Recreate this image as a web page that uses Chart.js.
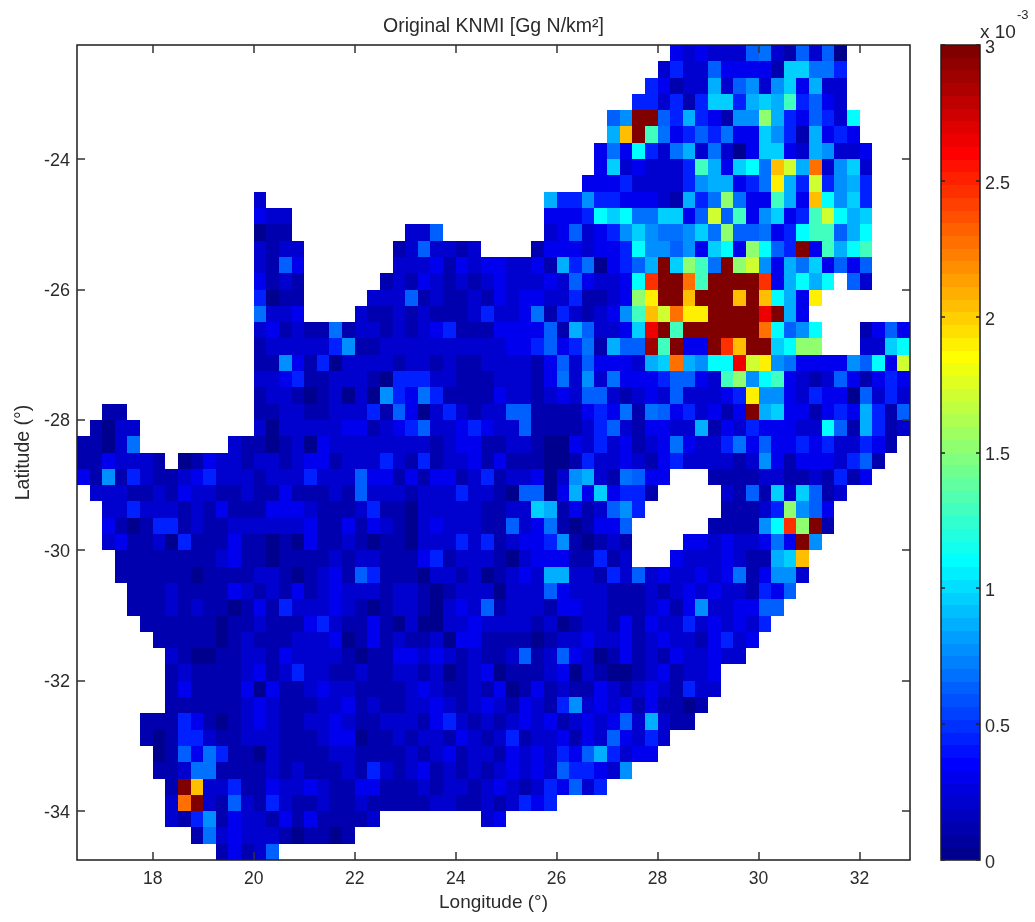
<!DOCTYPE html>
<html><head><meta charset="utf-8">
<style>html,body{margin:0;padding:0;background:#fff}canvas{position:absolute;top:0;display:block}</style>
<script src="https://cdn.jsdelivr.net/npm/chart.js@4"></script>
</head><body>
<canvas id="map" width="1035" height="922" style="left:0"></canvas>
<canvas id="bar" width="105" height="922" style="left:930px"></canvas>
<script>
// Axis ticks
const xTicks=[18,20,22,24,26,28,30,32];
const yTicks=[-34,-32,-30,-28,-26,-24];
const barTicks=[0,0.5,1,1.5,2,2.5,3];
const cellLon=0.25, cellLat=0.25, lonMin=16.5, lonMax=33, latMin=-34.75, latMax=-22.25;
// Legend key for the cell strings: each character is a value in units of 1e-3 Gg N/km2
const levelKeys="0123456789abcdefghijk";
const levelValues=[.04,.13,.21,.31,.43,.61,.70,.77,.87,.96,1.10,1.27,1.5,1.69,1.875,2.06,2.25,2.44,2.63,2.86,3];
// Rows from north to south; every row is a list of [first column, cell characters]
const gridRows=[
[[47,"32322256215250"]],
[[46,"242253333199664"]],
[[45,"4312282572793822"]],
[[44,"442414994898b4532"]],
[[42,"57kk54843177c843542a"]],
[[42,"8fkb6345463397418343"]],
[[41,"363a426826203993287223"]],
[[41,"39232224b839a6fd8g2792"]],
[[40,"333422224788346e84d4784"]],
[[14,"2"],[37,"84474433321846c633b83fa794"]],
[[14,"322"],[37,"3334a9a669935d5b37934bda89"]],
[[14,"011"],[26,"225"],[37,"23523479766796c55634abb58a"]],
[[14,"2122"],[25,"1252212"],[36,"13332334a775739a3ca54k3b8ab"]],
[[14,"2153"],[25,"222313233223184603458k9cb6kcd738693535"]],
[[14,"3121"],[24,"12132121232223253223ahkkgbkkkkh38a8a"],[61,"52"]],
[[14,"4011"],[23,"222512112132332241123cekkfkkkfkfa83e"]],
[[14,"6223"],[22,"2112121112422361421237bfdgeekkkkik83"]],
[[14,"2312116122121234111333351852239ikbkkkkkkga57a"],[62,"1353"]],
[[14,"1222224711222222222233453461855jbk33khfkk9acc"],[62,"229a"]],
[[14,"117314022221221211222213525333289g87aaide76333375a3d"]],
[[14,"2234112221044422111222136272633345532bc7ab3212531343"]],
[[14,"122101202074364111132212325521232522234e773243305242"]],
[[2,"11"],[14,"112211222415302421225511113436165342313k893313438415"]],
[[1,"1022"],[14,"202222233123452234322511112452133228132433322a518412"]],
[[0,"11026"],[12,"21101203222222221233112210032423123632246353343422431"]],
[[0,"1132221"],[8,"01322122123312224214122313111001422321342222127313332451"]],
[[0,"31714211234222122242225331313312412230278216533"],[50,"1111221121413"]],
[[1,"222112132211211311121522212224221055038393441"],[51,"2151929512"]],
[[2,"2242221213111333211124110222221122981312574"],[51,"11124c753"]],
[[2,"310144121122222231131321023222115236101335"],[50,"11117ahck1"]],
[[2,"231120411131101031121011022242412334710121"],[48,"332322363k7"]],
[[3,"11111111231101111212211134122210233311412"],[47,"3222321189f"]],
[[3,"1111110111122101231541110221201232882214252322323613772"]],
[[4,"11121111321213123222122101222022253222111212323221435"]],
[[4,"1112121101314222321012210232512221332211123137223355"]],
[[5,"11111101121113421131020022322221201221313224232324"]],
[[6,"111110121112223013121120331111012232231232213423"]],
[[7,"2100112213222210113323212112512532013121322322"]],
[[7,"12111123124221121122120123011123021001231223"]],
[[7,"13111130311232211112321121301312113212321422"]],
[[7,"1111112321112231211223212321321472323131101"]],
[[5,"11143101232112232112221342121232312323528211"]],
[[5,"101442112221112330112122132124122313253242"]],
[[6,"0153641102111122111121231221323243584233"]],
[[6,"11266111121211121421231212123232544327"]],
[[7,"1kf22411322321133111212212321243524"]],
[[7,"2gk2152142112112111112211212434"]],
[[7,"21471322131311112"],[32,"23"]],
[[9,"1623222101101"]],
[[11,"13125"]]
];

function jet(v){
  const idx=Math.min(63,Math.floor(v/3*64));
  const t=(idx+1)/64;
  const ch=d=>Math.max(0,Math.min(1,1.5-Math.abs(4*t-d)));
  return `rgb(${Math.round(ch(3)*255)},${Math.round(ch(2)*255)},${Math.round(ch(1)*255)})`;
}
const textColor='#2b2b2b';
const fontFamily='"Liberation Sans",Arial,sans-serif';

const snapBars={id:'snapBars',afterDatasetsUpdate(chart){
  chart.getSortedVisibleDatasetMetas().forEach(meta=>meta.data.forEach((el,i)=>{
    let l,r;
    if(meta.iScale.type==='linear'){
      const lon=meta._parsed[i].x;
      l=Math.round(meta.iScale.getPixelForValue(lon-cellLon/2));
      r=Math.round(meta.iScale.getPixelForValue(lon+cellLon/2));
    }else{
      l=Math.round(el.x-el.width/2);r=Math.round(el.x+el.width/2);
    }
    const t=Math.round(Math.min(el.y,el.base)),b=Math.round(Math.max(el.y,el.base));
    el.x=(l+r)/2;el.width=r-l;el.y=t;el.base=b;el.height=b-t;
  }));
}};
function frame(ctx,a){
  ctx.save();ctx.strokeStyle='#1c1c1c';ctx.lineWidth=1.5;
  ctx.strokeRect(a.left,a.top,a.right-a.left,a.bottom-a.top);ctx.restore();
}
const boxTicks={id:'boxTicks',afterDatasetsDraw(chart){
  const ctx=chart.ctx,a=chart.chartArea,L=8;
  frame(ctx,a);
  ctx.save();ctx.strokeStyle='#333';ctx.lineWidth=1.5;ctx.beginPath();
  xTicks.forEach(v=>{const p=Math.round(chart.scales.x.getPixelForValue(v));
    ctx.moveTo(p,a.bottom);ctx.lineTo(p,a.bottom-L);ctx.moveTo(p,a.top);ctx.lineTo(p,a.top+L);});
  yTicks.forEach(v=>{const p=Math.round(chart.scales.y.getPixelForValue(v));
    ctx.moveTo(a.left,p);ctx.lineTo(a.left+L,p);ctx.moveTo(a.right,p);ctx.lineTo(a.right-L,p);});
  ctx.stroke();ctx.restore();
}};

const mapDatasets=gridRows.map((segments,r)=>{
  const latTop=latMax-r*cellLat, data=[], colors=[];
  segments.forEach(([start,cells])=>{
    [...cells].forEach((ch,i)=>{
      const v=levelValues[levelKeys.indexOf(ch)];
      data.push({x:lonMin+(start+i+0.5)*cellLon,y:[latTop-cellLat,latTop],v});
      colors.push(jet(v));
    });
  });
  return {label:'row '+r,data,backgroundColor:colors,borderWidth:0,borderSkipped:false,inflateAmount:0,
    grouped:false,barPercentage:1,categoryPercentage:1};
});

new Chart(document.getElementById('map'),{
  type:'bar',
  data:{datasets:mapDatasets},
  plugins:[snapBars,boxTicks],
  options:{
    responsive:false,animation:false,events:[],
    layout:{padding:{left:0,right:125,top:0,bottom:0},autoPadding:false},
    plugins:{
      legend:{display:false},tooltip:{enabled:false},
      title:{display:true,fullSize:false,text:'Original KNMI [Gg N/km²]',color:textColor,
        font:{family:fontFamily,size:19.5,weight:'normal',lineHeight:1.2},padding:{top:15,bottom:6.6}}
    },
    scales:{
      x:{type:'linear',offset:false,min:lonMin,max:lonMax,stacked:false,
        grid:{display:false,drawTicks:false},border:{display:false},
        afterBuildTicks:s=>{s.ticks=xTicks.map(value=>({value}));},
        afterFit:s=>{s.height=62;},
        ticks:{color:textColor,padding:9,maxRotation:0,autoSkip:false,font:{family:fontFamily,size:17.5},callback:v=>String(v)},
        title:{display:true,text:'Longitude (°)',color:textColor,font:{family:fontFamily,size:19},padding:{top:0,bottom:8}}
      },
      y:{type:'linear',min:latMin,max:latMax,beginAtZero:false,
        grid:{display:false,drawTicks:false},border:{display:false},
        afterBuildTicks:s=>{s.ticks=yTicks.map(value=>({value}));},
        afterFit:s=>{s.width=77;},
        ticks:{color:textColor,padding:7,labelOffset:1.5,autoSkip:false,font:{family:fontFamily,size:18},callback:v=>String(v)},
        title:{display:true,text:'Latitude (°)',color:textColor,font:{family:fontFamily,size:19.5},padding:{top:12,bottom:12}}
      }
    }
  }
});

// Colour bar: one floating bar per colormap step
const barSteps=Array.from({length:64},(_,i)=>i);
const barDatasets=barSteps.map(i=>({label:'step '+i,
  data:[[i*3/64,(i+1)*3/64]],backgroundColor:jet((i+0.5)*3/64),borderWidth:0,borderSkipped:false,inflateAmount:0,
  grouped:false,barPercentage:1,categoryPercentage:1}));
const barDecor={id:'barDecor',afterDatasetsDraw(chart){
  const ctx=chart.ctx,a=chart.chartArea;
  frame(ctx,a);
  ctx.save();ctx.strokeStyle='#222';ctx.lineWidth=1.5;ctx.beginPath();
  barTicks.forEach(v=>{const p=Math.round(chart.scales.y.getPixelForValue(v));
    ctx.moveTo(a.left,p);ctx.lineTo(a.left+4,p);ctx.moveTo(a.right,p);ctx.lineTo(a.right-4,p);});
  ctx.stroke();
  ctx.fillStyle=textColor;ctx.textBaseline='alphabetic';ctx.textAlign='left';
  ctx.font='19px '+fontFamily;ctx.fillText('x 10',a.right,38);
  ctx.font='13px '+fontFamily;ctx.fillText('-3',a.right+37,19);
  ctx.restore();
}};
new Chart(document.getElementById('bar'),{
  type:'bar',
  data:{labels:['KNMI'],datasets:barDatasets},
  plugins:[snapBars,barDecor],
  options:{
    responsive:false,animation:false,events:[],
    layout:{padding:{left:11,right:0,top:45,bottom:62},autoPadding:false},
    plugins:{legend:{display:false},tooltip:{enabled:false}},
    scales:{
      x:{display:false},
      y:{position:'right',min:0,max:3,beginAtZero:true,
        grid:{display:false,drawTicks:false},border:{display:false},
        afterBuildTicks:s=>{s.ticks=barTicks.map(value=>({value}));},
        afterFit:s=>{s.width=55;},
        ticks:{color:textColor,padding:5,labelOffset:3,autoSkip:false,font:{family:fontFamily,size:18},callback:v=>String(v)}
      }
    }
  }
});
</script>
</body></html>
